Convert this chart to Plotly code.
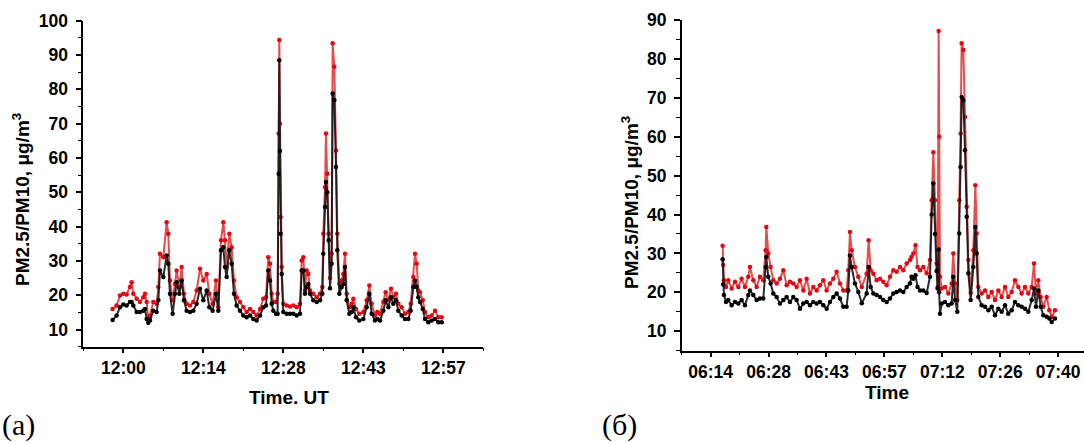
import plotly.graph_objects as go

# ---------------- panel (a): minutes after 12:00 UT ----------------
t_a = [-1.90,-1.19,-0.59,0.00,0.59,1.19,1.48,1.78,2.38,2.97,
       3.56,3.86,4.16,4.45,4.75,5.34,5.94,6.24,6.53,7.13,
       7.72,8.02,8.31,8.79,9.20,9.50,9.98,10.39,10.81,11.28,
       11.88,12.47,13.06,13.66,14.25,14.85,15.32,15.91,16.51,16.92,
       17.40,17.81,18.11,18.41,18.88,19.30,19.71,20.19,20.78,21.38,
       21.97,22.57,23.16,23.75,24.35,24.94,25.42,25.83,26.13,26.43,
       26.72,27.20,27.49,27.67,27.79,27.91,28.03,28.21,28.50,29.10,
       29.69,30.29,30.88,31.47,31.77,32.07,32.36,32.66,32.96,33.25,
       33.85,34.44,35.04,35.45,35.63,35.93,36.10,36.34,36.58,36.82,
       37.11,37.29,37.59,37.89,38.12,38.48,38.90,39.19,39.49,39.79,
       40.26,40.68,40.97,41.45,42.04,42.76,43.35,43.82,44.24,44.83,
       45.25,45.72,46.32,46.73,47.21,47.68,48.10,48.57,48.99,49.58,
       50.18,50.77,51.19,51.66,51.96,52.26,52.55,52.85,53.33,53.74,
       54.33,54.93,55.52,56.12,56.71]
pm10_a = [16.0,17.0,19.9,20.4,20.2,22.4,23.8,20.4,19.0,18.0,
          19.4,20.4,18.0,13.0,14.1,18.0,17.5,22.4,32.1,31.1,
          41.3,37.9,24.3,18.5,23.3,27.2,22.4,28.2,20.4,17.5,
          17.0,18.0,21.4,27.7,24.3,26.2,20.4,17.5,24.3,16.5,
          36.0,41.3,36.0,28.2,37.9,34.0,24.3,19.4,18.0,16.5,
          15.1,16.0,15.1,14.1,16.0,19.0,19.4,31.1,29.2,20.4,
          18.0,18.0,20.4,67.1,94.4,70.0,42.8,28.2,17.5,17.0,
          16.7,17.0,16.5,17.5,30.1,31.1,21.4,27.2,26.2,21.4,
          20.4,19.4,20.4,22.4,37.9,51.5,67.1,55.4,37.9,25.0,
          32.1,93.4,86.6,62.2,37.9,23.3,24.3,26.2,32.1,20.4,
          16.5,17.5,19.0,16.0,14.6,15.1,18.5,22.8,17.5,14.1,
          15.1,14.6,18.0,20.9,18.5,21.9,19.4,20.4,17.5,16.5,
          14.6,15.1,17.5,25.3,32.1,29.2,21.4,20.9,18.5,15.1,
          13.6,14.1,15.5,13.6,13.6]
pm25_a = [12.8,14.1,16.5,17.3,17.0,18.0,18.0,17.0,15.1,15.1,
          15.5,16.0,13.1,12.0,12.6,15.5,15.1,18.5,27.2,25.3,
          31.6,29.2,20.4,14.6,20.4,23.8,20.4,24.3,18.5,15.5,
          15.1,15.5,17.5,21.9,18.5,21.4,16.5,15.5,20.4,15.5,
          33.1,34.0,28.2,25.3,33.1,29.2,20.4,17.0,15.5,14.1,
          13.6,14.1,13.1,12.6,14.1,16.5,17.0,27.2,24.3,17.5,
          15.5,14.6,14.6,55.4,88.5,62.0,37.9,26.2,15.1,14.6,
          14.6,14.6,14.1,14.6,27.2,27.2,20.4,22.4,23.3,20.4,
          18.5,18.0,18.5,20.4,32.1,45.7,53.0,50.0,36.0,22.0,
          29.2,78.8,76.8,57.4,33.1,20.4,22.4,23.3,28.2,18.5,
          14.6,15.1,16.5,13.6,12.6,13.1,16.5,20.4,14.6,12.6,
          13.1,12.6,15.5,18.5,16.5,19.4,17.5,18.5,15.5,14.1,
          13.1,13.1,15.5,22.4,24.3,22.4,19.4,18.0,16.0,13.1,
          12.1,12.6,13.1,12.1,12.1]
ticks_a = [0, 14.25, 28.5, 42.75, 57]
labels_a = ["12:00", "12:14", "12:28", "12:43", "12:57"]

# ---------------- panel (б): minutes after 06:14 ----------------
t_b = [2.96,3.10,3.29,3.79,4.36,5.19,6.01,6.84,7.66,8.49,
       9.31,9.72,10.55,11.38,12.20,13.03,13.61,13.77,14.26,14.84,
       15.50,16.33,17.15,17.98,18.80,19.63,20.45,21.28,22.10,22.93,
       23.75,24.58,25.40,26.23,27.05,27.88,28.70,29.53,30.35,31.18,
       32.00,32.83,33.65,34.06,34.48,34.89,35.71,36.54,37.40,38.61,
       39.10,39.60,40.26,41.08,41.91,42.73,43.56,44.38,45.21,46.03,
       46.86,47.68,48.51,49.33,49.70,50.16,50.70,51.20,51.81,52.63,
       53.46,54.28,54.69,55.11,55.52,55.93,56.18,56.43,56.55,56.76,
       57.17,57.99,58.82,59.64,60.05,60.47,61.05,61.54,61.85,62.12,
       62.54,62.95,63.36,63.78,64.35,65.01,65.51,65.83,66.25,67.07,
       67.90,68.72,69.55,70.37,71.20,72.02,72.85,73.67,74.50,75.32,
       76.15,76.97,77.80,78.62,79.45,80.03,80.52,81.10,81.68,82.34,
       83.16,83.82,84.40,85.22]
pm10_b = [32.0,27.0,23.1,21.4,23.1,21.0,22.7,21.4,23.5,21.4,
          24.0,26.5,23.1,21.4,24.0,23.1,30.8,36.8,30.0,26.5,
          23.1,22.3,23.5,25.7,21.8,22.7,22.3,21.4,23.1,20.5,
          23.5,19.7,21.4,20.5,21.8,23.1,20.5,22.3,23.5,25.3,
          22.3,20.5,20.5,25.7,35.5,30.8,26.5,24.0,21.4,24.8,
          33.4,25.7,24.8,23.1,23.5,22.7,21.8,24.0,25.7,25.3,
          26.5,25.7,27.4,28.3,29.1,30.0,32.1,26.5,25.7,26.5,
          24.9,28.3,43.7,56.0,43.7,27.4,21.4,87.2,60.0,24.0,
          21.0,21.4,19.7,22.3,30.0,22.3,18.0,43.7,60.8,84.0,
          82.3,65.1,42.0,28.3,19.8,30.8,47.5,35.1,21.4,19.7,
          20.5,18.8,20.1,18.0,20.5,18.8,21.4,18.8,20.1,23.1,
          21.4,19.7,21.4,19.7,21.4,27.4,19.7,23.1,18.8,16.3,
          18.8,15.4,13.7,15.4]
pm25_b = [28.5,22.0,19.3,17.5,18.0,16.7,17.5,17.1,18.0,16.7,
          19.3,20.5,19.3,18.0,18.4,18.4,26.5,29.1,24.0,22.3,
          19.7,18.8,17.1,18.0,18.8,17.5,18.8,18.0,15.8,17.1,
          17.5,16.7,17.5,17.1,17.5,16.7,15.8,17.5,18.8,19.7,
          18.4,16.3,16.3,20.5,29.5,26.5,22.3,20.1,17.2,19.7,
          26.5,21.4,19.7,19.3,18.8,18.0,17.5,18.4,19.7,20.1,
          20.5,20.1,21.4,22.3,24.0,23.5,24.4,21.4,20.5,20.5,
          19.8,24.0,40.0,48.0,35.0,25.5,21.0,31.0,20.0,14.5,
          17.1,17.5,16.7,17.1,24.0,18.0,15.0,35.1,52.2,70.2,
          69.4,56.5,39.4,24.9,18.0,26.5,36.8,30.0,18.8,16.7,
          16.3,15.4,16.3,14.1,15.8,15.0,16.7,14.5,15.4,17.5,
          16.7,16.3,15.8,15.0,18.0,21.0,16.3,20.5,16.3,14.1,
          13.7,13.3,12.4,13.3]
ticks_b = [0, 14.333, 28.667, 43, 57.333, 71.667, 86]
labels_b = ["06:14", "06:28", "06:43", "06:57", "07:12", "07:26", "07:40"]

RED = "#e30613"
FONT = "Liberation Sans"

fig = go.Figure()

def add_series(x, y, color, lcolor, xa, ya):
    fig.add_trace(go.Scatter(
        x=x, y=y, mode="lines+markers", xaxis=xa, yaxis=ya,
        line=dict(color=lcolor, width=2.0),
        marker=dict(color=color, size=4.5, line=dict(width=0)),
        showlegend=False, hoverinfo="skip"))

add_series(t_a, pm10_a, RED, "rgba(225,30,30,0.8)", "x", "y")
add_series(t_a, pm25_a, "black", "rgba(20,20,20,0.9)", "x", "y")
add_series(t_b, pm10_b, RED, "rgba(225,30,30,0.8)", "x2", "y2")
add_series(t_b, pm25_b, "black", "rgba(20,20,20,0.9)", "x2", "y2")

W, H = 1084, 443
tickfont = dict(family=FONT, size=17.5, color="black", weight="bold")

def xaxis(dom, rng, tv, tt, tick0, dt):
    return dict(domain=dom, range=rng, tickmode="array", tickvals=tv, ticktext=tt,
                showline=True, linecolor="black", linewidth=1.5, ticks="outside",
                ticklen=5, tickwidth=1.5, tickcolor="black", showgrid=False,
                zeroline=False, tickfont=tickfont, ticklabeloverflow="allow",
                automargin=False,
                minor=dict(tickmode="linear", tick0=tick0, dtick=dt, ticklen=3,
                           tickwidth=1.2, tickcolor="black", showgrid=False))

def yaxis(dom, rng):
    return dict(domain=dom, range=rng, tickmode="linear", tick0=10, dtick=10,
                showline=True, linecolor="black", linewidth=1.5, ticks="outside",
                ticklen=6, tickwidth=1.5, tickcolor="black", showgrid=False,
                zeroline=False, tickfont=tickfont, ticklabelstandoff=4,
                automargin=False,
                minor=dict(tickmode="linear", tick0=5, dtick=10, ticklen=4,
                           tickwidth=1.2, tickcolor="black", showgrid=False))

xa = xaxis([83.3 / W, 483.3 / W], [-7.125, 64.125], ticks_a, labels_a, -7.125, 14.25)
xa["anchor"] = "y"
xb = xaxis([681.7 / W, 1.0], [-7.167, 92.4], ticks_b, labels_b, -7.167, 14.333)
xb["anchor"] = "y2"
ya = yaxis([(H - 346.7) / H, (H - 20.7) / H], [5, 100])
ya["anchor"] = "x"
yb = yaxis([(H - 350.7) / H, (H - 20.0) / H], [5, 90])
yb["anchor"] = "x2"

fig.update_layout(
    width=W, height=H, margin=dict(l=0, r=0, t=0, b=0, pad=0, autoexpand=False),
    paper_bgcolor="white", plot_bgcolor="white",
    xaxis=xa, yaxis=ya, xaxis2=xb, yaxis2=yb,
)

ytitle = "<b>PM2.5/PM10, μg/m<sup>3</sup></b>"
ann = [
    dict(text=ytitle, x=21 / W, y=1 - 200 / H, textangle=-90),
    dict(text=ytitle, x=630 / W, y=1 - 203 / H, textangle=-90),
    dict(text="<b>Time. UT</b>", x=289 / W, y=1 - 397 / H),
    dict(text="<b>Time</b>", x=887 / W, y=1 - 392 / H),
]
for a in ann:
    fig.add_annotation(xref="paper", yref="paper", xanchor="center", yanchor="middle",
                       showarrow=False, font=dict(family=FONT, size=19, color="black"), **a)

for txt, x in [("(a)", 0), ("(б)", 600)]:
    fig.add_annotation(xref="paper", yref="paper", x=x / W, y=1 - 425 / H,
                       xanchor="left", yanchor="middle", showarrow=False, text=txt,
                       font=dict(family="Liberation Serif", size=30, color="black"))

post = ("document.documentElement.style.margin='0';document.body.style.margin='0';"
        "document.body.style.padding='0';document.body.style.overflow='hidden';"
        "var g=document.getElementsByClassName('plotly-graph-div')[0];"
        "g.style.position='absolute';g.style.left='0px';g.style.top='0px';")
fig.write_html("out.html", post_script=post, config={"displayModeBar": False})
